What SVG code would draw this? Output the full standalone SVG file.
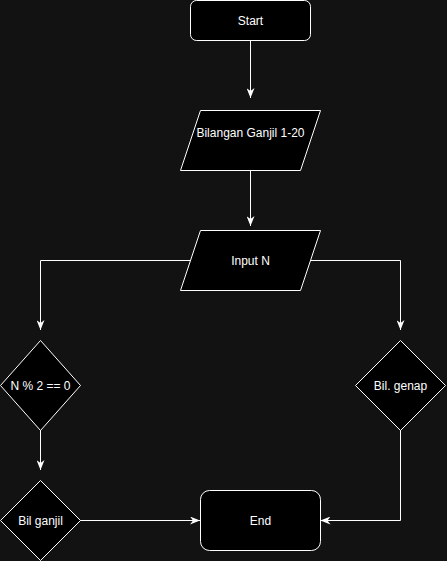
<svg xmlns="http://www.w3.org/2000/svg" width="447" height="561" viewBox="0 0 447 561">
<style>
.shape{fill:#000;stroke:#fff;stroke-width:1}
.lbl{font-family:"Liberation Sans",Arial,sans-serif;font-size:12px;fill:#fff;text-anchor:middle;dominant-baseline:central}
.edge{fill:none;stroke:#fff;stroke-width:1}
</style>
<defs>
<marker id="arr" viewBox="0 0 10 8" refX="10" refY="4" markerWidth="10" markerHeight="8" markerUnits="userSpaceOnUse" orient="auto">
<path d="M10,4 L0,0 L3,4 L0,8 Z" fill="#fff" stroke="none"/>
</marker>
</defs>
<rect width="447" height="561" fill="#121212"/>
<g id="connectors">
<path class="edge" d="M250.5,40.5 V98" marker-end="url(#arr)"/>
<path class="edge" d="M250.5,170.5 V226" marker-end="url(#arr)"/>
<path class="edge" d="M190,260.5 H40.5 V330" marker-end="url(#arr)"/>
<path class="edge" d="M310,260.5 H400.5 V330" marker-end="url(#arr)"/>
<path class="edge" d="M40.5,430 V470" marker-end="url(#arr)"/>
<path class="edge" d="M80,520.5 H200" marker-end="url(#arr)"/>
<path class="edge" d="M400.5,430 V520.5 H320.5" marker-end="url(#arr)"/>
</g>
<g id="start">
<rect class="shape" x="190.5" y="0.5" width="120" height="40" rx="6"/>
<text class="lbl" x="250.5" y="20.5">Start</text>
</g>
<g id="bilangan">
<polygon class="shape" points="200.5,110.5 320.5,110.5 300.5,170.5 180.5,170.5"/>
<text class="lbl" x="250.5" y="133">Bilangan Ganjil 1-20</text>
</g>
<g id="input">
<polygon class="shape" points="200.5,230.5 320.5,230.5 300.5,290.5 180.5,290.5"/>
<text class="lbl" x="250.5" y="260.5">Input N</text>
</g>
<g id="cond">
<polygon class="shape" points="40.5,340.5 80.5,385.5 40.5,430.5 0.5,385.5"/>
<text class="lbl" x="40.5" y="385.5">N % 2 == 0</text>
</g>
<g id="ganjil">
<polygon class="shape" points="40.5,480.5 80.5,520.5 40.5,560.5 0.5,520.5"/>
<text class="lbl" x="40.5" y="520.5">Bil ganjil</text>
</g>
<g id="genap">
<polygon class="shape" points="400.5,340.5 445.5,385.5 400.5,430.5 355.5,385.5"/>
<text class="lbl" x="400.5" y="385.5">Bil. genap</text>
</g>
<g id="end">
<rect class="shape" x="200.5" y="490.5" width="120" height="60" rx="9"/>
<text class="lbl" x="260.5" y="520.5">End</text>
</g>
</svg>
